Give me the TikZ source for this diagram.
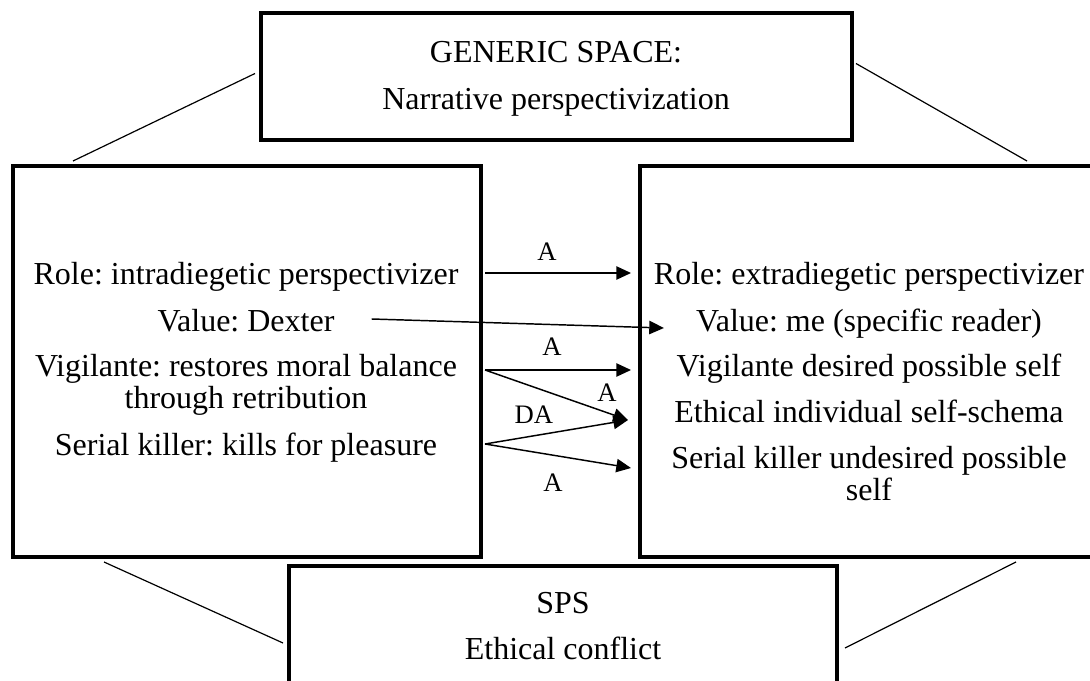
\documentclass[tikz,border=0pt]{standalone}
\usepackage{fontspec}
\setmainfont{Liberation Serif}
\frenchspacing
\usetikzlibrary{arrows.meta,calc,fit}
\tikzset{
  space/.style={draw, line width=3pt, inner sep=0pt},
  txt/.style={anchor=base, inner sep=0pt, font=\fontsize{24}{28}\selectfont},
  lbl/.style={inner sep=0pt, font=\fontsize{20}{24}\selectfont},
  link/.style={line width=0.9pt},
  map/.style={line width=1.1pt, -{Triangle[length=11pt,width=10pt]}},
}
\begin{document}
\begin{tikzpicture}[x=0.75pt, y=-0.75pt]
    \useasboundingbox (0,0) rectangle (1090,681);
    \clip (0,0) rectangle (1090,681);
    % spaces
    \node[space, fit={(261,13) (852,140)}] (gen) {};
    \node[space, fit={(13,166) (481,557)}] (inL) {};
    \node[space, fit={(640,166) (1098,557)}] (inR) {};
    \node[space, fit={(289,566) (837,720)}] (sps) {};
    % texts
    \node[txt] (genA) at (556,63) {GENERIC SPACE:};
    \node[txt] (genB) at (556,110) {Narrative perspectivization};
    \node[txt] (lrole) at (246,285) {Role: intradiegetic perspectivizer};
    \node[txt] (lval) at (246,332) {Value: Dexter};
    \node[txt] (lvig) at (246,377) {Vigilante: restores moral balance};
    \node[txt] (lvig2) at (246,408) {through retribution};
    \node[txt] (lser) at (246,455) {Serial killer: kills for pleasure};
    \node[txt] (rrole) at (869,285) {Role: extradiegetic perspectivizer};
    \node[txt] (rval) at (869,332) {Value: me (specific reader)};
    \node[txt] (rvig) at (869,377) {Vigilante desired possible self};
    \node[txt] (reth) at (869,422) {Ethical individual self-schema};
    \node[txt] (rser) at (869,468) {Serial killer undesired possible};
    \node[txt] (rser2) at (869,500) {self};
    \node[txt] (spsA) at (563,613) {SPS};
    \node[txt] (spsB) at (563,659) {Ethical conflict};
    % links between spaces
    \draw[link] ($(inL.north west)+(62,-3)$) -- ($(gen.west)+(-4,-3)$);
    \draw[link] ($(gen.east)+(2,-13)$) -- ($(inR.north west)+(389,-3)$);
    \draw[link] ($(inL.south west)+(93,3)$) -- ($(sps.west)+(-4,0)$);
    \draw[link] ($(inR.south west)+(378,3)$) -- ($(sps.east)+(6,5)$);
    % mappings
    \draw[map] ($(inL.east |- lrole.base)+(2,-12)$) -- ($(inR.west |- lrole.base)+(-7,-12)$);
    \draw[map] ($(lval.base east)+(37,-13)$) -- ($(rval.base west)+(-32,-4)$);
    \draw[map] ($(inL.east |- lvig.base)+(2,-7)$) -- ($(inR.west |- lvig.base)+(-7,-7)$);
    \draw[map] ($(inL.east |- lvig.base)+(2,-7)$) -- ($(inR.west |- reth.base)+(-10,-2)$);
    \draw[map] ($(inL.east |- lser.base)+(2,-11)$) -- ($(inR.west |- reth.base)+(-10,-2)$);
    \draw[map] ($(inL.east |- lser.base)+(2,-11)$) -- ($(inR.west |- rser.base)+(-7,0)$);
    \node[lbl] (m1) at (547,252) {A};
    \node[lbl] (m3) at (552,347) {A};
    \node[lbl] (m4) at (607,393) {A};
    \node[lbl] (m5) at (534,415) {DA};
    \node[lbl] (m6) at (553,483) {A};
\end{tikzpicture}
\end{document}
